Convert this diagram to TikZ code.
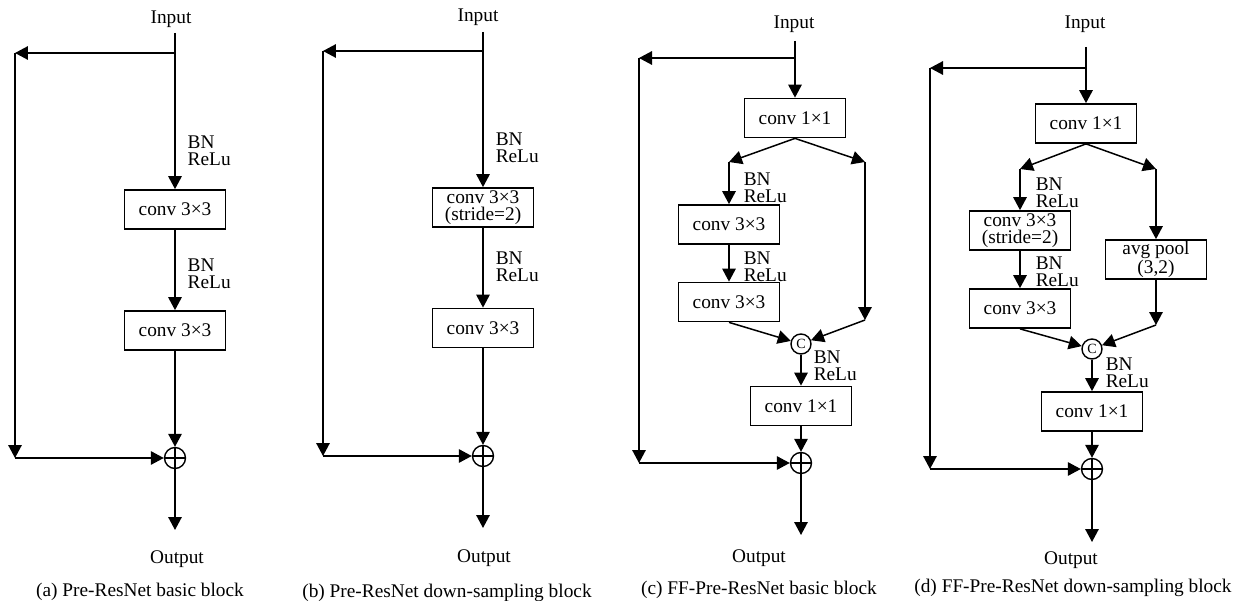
\documentclass[tikz,border=0pt]{standalone}
\usepackage{fontspec}
\setmainfont{Liberation Serif}
\usetikzlibrary{arrows.meta}

\tikzset{
  box/.style={draw, line width=1pt, minimum width=2.02cm, minimum height=0.78cm,
    inner sep=0pt, align=center, font=\fontsize{11}{9.5}\selectfont},
  lab/.style={anchor=north west, inner sep=0pt, align=left, font=\fontsize{11}{9.5}\selectfont},
  txt/.style={inner sep=0pt, font=\fontsize{11}{13}\selectfont},
  arr/.style={-{Triangle[length=2.6mm,width=2.7mm]}},
  sumnode/.style={circle, draw, line width=0.8pt, minimum size=0.42cm, inner sep=0pt,
    path picture={\draw[line width=0.8pt]
      (path picture bounding box.north) -- (path picture bounding box.south)
      (path picture bounding box.west) -- (path picture bounding box.east);}},
  catnode/.style={circle, draw, line width=0.8pt, minimum size=0.40cm, inner sep=0pt,
    font=\fontsize{8}{8}\selectfont},
}

\begin{document}
\begin{tikzpicture}[x=0.02cm, y=-0.02cm, line width=0.85pt]
\useasboundingbox (0,0) rectangle (1242,601);

% ---------------- (a) Pre-ResNet basic block ----------------
\node[txt] (ina) at (171,19) {Input};
\coordinate (a0) at (175,33);
\coordinate (ab) at (175,53);
\coordinate (al) at (15,53);
\node[box] (a1) at (175,209.5) {conv 3×3};
\node[box] (a2) at (175,330.5) {conv 3×3};
\node[sumnode] (as) at (175,458) {};
\coordinate (alb) at (15,458);
\coordinate (ao) at (175,530);
\node[lab] (abn1) at (187,135) {BN\\ReLu};
\node[lab] (abn2) at (187,258) {BN\\ReLu};
\draw (a0) -- (ab);
\draw[arr] (ab) -- (al);
\draw[arr] (al) -- (alb);
\draw[arr] (ab) -- (a1);
\draw[arr] (a1) -- (a2);
\draw[arr] (a2) -- (as);
\draw[arr] (alb) -- (as);
\draw[arr] (as) -- (ao);
\node[txt] (outa) at (177,559) {Output};
\node[txt] (capa) at (140,592) {(a) Pre-ResNet basic block};

% ---------------- (b) Pre-ResNet down-sampling block ----------------
\node[txt] (inb) at (478,17) {Input};
\coordinate (b0) at (483,32);
\coordinate (bb) at (483,51);
\coordinate (bl) at (323,51);
\node[box] (b1) at (483,207.5) {conv 3×3\\(stride=2)};
\node[box] (b2) at (483,328) {conv 3×3};
\node[sumnode] (bs) at (483,456) {};
\coordinate (blb) at (323,456);
\coordinate (bo) at (483,528);
\node[lab] (bbn1) at (495,132) {BN\\ReLu};
\node[lab] (bbn2) at (495,251) {BN\\ReLu};
\draw (b0) -- (bb);
\draw[arr] (bb) -- (bl);
\draw[arr] (bl) -- (blb);
\draw[arr] (bb) -- (b1);
\draw[arr] (b1) -- (b2);
\draw[arr] (b2) -- (bs);
\draw[arr] (blb) -- (bs);
\draw[arr] (bs) -- (bo);
\node[txt] (outb) at (484,558) {Output};
\node[txt] (capb) at (447,593) {(b) Pre-ResNet down-sampling block};

% ---------------- (c) FF-Pre-ResNet basic block ----------------
\node[txt] (inc) at (794,24) {Input};
\coordinate (c0) at (795,41);
\coordinate (cb) at (795,58);
\coordinate (cl) at (639,58);
\node[box] (c1) at (795,118) {conv 1×1};
\coordinate (cpl) at (729,162);
\coordinate (cpr) at (865,162);
\node[box] (c2) at (729,224.5) {conv 3×3};
\node[box] (c3) at (729,302) {conv 3×3};
\coordinate (cqr) at (865,320);
\node[catnode] (cc) at (801,344) {C};
\node[box] (c4) at (801,406) {conv 1×1};
\node[sumnode] (cs) at (801,463) {};
\coordinate (clb) at (639,463);
\coordinate (co) at (801,535);
\node[lab] (cbn1) at (743,172) {BN\\ReLu};
\node[lab] (cbn2) at (743,251) {BN\\ReLu};
\node[lab] (cbn3) at (813,350) {BN\\ReLu};
\draw (c0) -- (cb);
\draw[arr] (cb) -- (cl);
\draw[arr] (cl) -- (clb);
\draw[arr] (cb) -- (c1);
\draw[arr] (c1.south) -- (cpl);
\draw[arr] (c1.south) -- (cpr);
\draw[arr] (cpl) -- (c2);
\draw[arr] (c2) -- (c3);
\draw[arr] (cpr) -- (cqr);
\draw[arr] (c3.south) -- (cc);
\draw[arr] (cqr) -- (cc);
\draw[arr] (cc) -- (c4);
\draw[arr] (c4) -- (cs);
\draw[arr] (clb) -- (cs);
\draw[arr] (cs) -- (co);
\node[txt] (outc) at (759,558) {Output};
\node[txt] (capc) at (759,590) {(c) FF-Pre-ResNet basic block};

% ---------------- (d) FF-Pre-ResNet down-sampling block ----------------
\node[txt] (ind) at (1085,24) {Input};
\coordinate (d0) at (1086,47);
\coordinate (db) at (1086,68);
\coordinate (dl) at (930,68);
\node[box] (d1) at (1086,123.5) {conv 1×1};
\coordinate (dpl) at (1020,169);
\coordinate (dpr) at (1156,169);
\node[box] (d2) at (1020,230.5) {conv 3×3\\(stride=2)};
\node[box] (d3) at (1020,308.5) {conv 3×3};
\node[box] (d5) at (1156,259.5) {avg pool\\(3,2)};
\coordinate (dqr) at (1156,325);
\node[catnode] (dc) at (1092,349) {C};
\node[box] (d4) at (1092,411.5) {conv 1×1};
\node[sumnode] (ds) at (1092,469) {};
\coordinate (dlb) at (930,469);
\coordinate (do) at (1092,542);
\node[lab] (dbn1) at (1035,177) {BN\\ReLu};
\node[lab] (dbn2) at (1035,256) {BN\\ReLu};
\node[lab] (dbn3) at (1105,357) {BN\\ReLu};
\draw (d0) -- (db);
\draw[arr] (db) -- (dl);
\draw[arr] (dl) -- (dlb);
\draw[arr] (db) -- (d1);
\draw[arr] (d1.south) -- (dpl);
\draw[arr] (d1.south) -- (dpr);
\draw[arr] (dpl) -- (d2);
\draw[arr] (d2) -- (d3);
\draw[arr] (dpr) -- (d5);
\draw[arr] (d5) -- (dqr);
\draw[arr] (d3.south) -- (dc);
\draw[arr] (dqr) -- (dc);
\draw[arr] (dc) -- (d4);
\draw[arr] (d4) -- (ds);
\draw[arr] (dlb) -- (ds);
\draw[arr] (ds) -- (do);
\node[txt] (outd) at (1071,560) {Output};
\node[txt] (capd) at (1073,588) {(d) FF-Pre-ResNet down-sampling block};
\end{tikzpicture}
\end{document}
